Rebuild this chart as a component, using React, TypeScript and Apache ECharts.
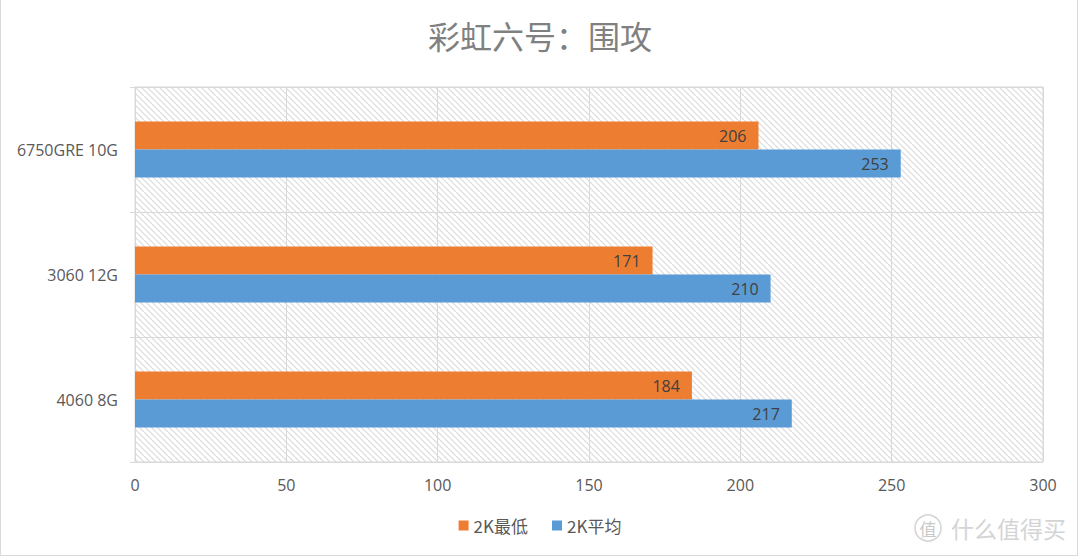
import React, { useEffect, useRef } from "react";
import * as echarts from "echarts";

const titleText = "彩虹六号：围攻";
const categories = ["6750GRE 10G", "3060 12G", "4060 8G"];
const seriesNames = ["2K最低", "2K平均"];
const minValues = [206, 171, 184];
const avgValues = [253, 210, 217];
const xTicks = { min: 0, max: 300, interval: 50 };
const watermark = "什么值得买";

function makeHatch(): HTMLCanvasElement {
  const size = 6;
  const c = document.createElement("canvas");
  c.width = size;
  c.height = size;
  const ctx = c.getContext("2d")!;
  ctx.fillStyle = "#ffffff";
  ctx.fillRect(0, 0, size, size);
  ctx.strokeStyle = "#dadada";
  ctx.lineWidth = 1.2;
  for (const x0 of [-size, 0, size]) {
    ctx.beginPath();
    ctx.moveTo(x0, 0);
    ctx.lineTo(x0 + size, size);
    ctx.stroke();
  }
  return c;
}

export default function App() {
  const ref = useRef<HTMLDivElement>(null);
  useEffect(() => {
    if (!ref.current) return;
    const chart = echarts.init(ref.current, null, { renderer: "svg" });
    const hatch = makeHatch();
    const font = "'Open Sans', 'Noto Sans CJK SC', sans-serif";
    const option: any = {
      animation: false,
      backgroundColor: "#ffffff",
      title: {
        text: titleText,
        left: "center",
        top: 14,
        textStyle: {
          fontSize: 32,
          fontWeight: "normal",
          color: "#808080",
          fontFamily: "'Noto Sans CJK SC', sans-serif",
        },
      },
      legend: {
        data: seriesNames,
        left: "center",
        top: 512,
        itemWidth: 10,
        itemHeight: 10,
        itemGap: 24,
        icon: "rect",
        textStyle: {
          fontSize: 17,
          color: "#595959",
          fontFamily: "'Noto Sans CJK SC', sans-serif",
        },
      },
      grid: {
        left: 135,
        right: 37,
        top: 87,
        bottom: 96,
        show: true,
        borderColor: "#d9d9d9",
        borderWidth: 1,
        backgroundColor: {
          image: hatch,
          repeat: "repeat",
          imageWidth: 6,
          imageHeight: 6,
        },
      },
      xAxis: {
        type: "value",
        min: xTicks.min,
        max: xTicks.max,
        interval: xTicks.interval,
        axisLine: { show: false },
        axisTick: { show: false },
        splitLine: { show: true, lineStyle: { color: "#d9d9d9", width: 1 } },
        axisLabel: {
          fontSize: 16,
          color: "#595959",
          margin: 15,
          fontFamily: font,
        },
      },
      yAxis: {
        type: "category",
        data: categories,
        inverse: true,
        axisLine: { show: true, lineStyle: { color: "#d9d9d9" } },
        axisTick: { show: true, length: 5, lineStyle: { color: "#d9d9d9" } },
        splitLine: { show: true, lineStyle: { color: "#d9d9d9", width: 1 } },
        axisLabel: {
          fontSize: 16,
          color: "#595959",
          margin: 17,
          fontFamily: font,
        },
      },
      series: [
        {
          name: seriesNames[0],
          type: "bar",
          data: minValues,
          barWidth: 28,
          barGap: "0%",
          itemStyle: { color: "#ED7D31" },
          label: {
            show: true,
            position: "insideRight",
            distance: 12,
            fontSize: 16,
            color: "#404040",
            fontFamily: font,
          },
        },
        {
          name: seriesNames[1],
          type: "bar",
          data: avgValues,
          barWidth: 28,
          barGap: "0%",
          itemStyle: { color: "#5B9BD5" },
          label: {
            show: true,
            position: "insideRight",
            distance: 12,
            fontSize: 16,
            color: "#404040",
            fontFamily: font,
          },
        },
      ],
      graphic: [
        {
          type: "line",
          shape: { x1: 0.5, y1: 0, x2: 0.5, y2: 556 },
          style: { stroke: "#d9d9d9", lineWidth: 1 },
          silent: true,
        },
        {
          type: "line",
          shape: { x1: 1077.5, y1: 0, x2: 1077.5, y2: 556 },
          style: { stroke: "#d9d9d9", lineWidth: 1 },
          silent: true,
        },
        {
          type: "line",
          shape: { x1: 0, y1: 555.5, x2: 1078, y2: 555.5 },
          style: { stroke: "#d9d9d9", lineWidth: 1 },
          silent: true,
        },
        {
          type: "circle",
          shape: { cx: 928, cy: 528, r: 13 },
          style: { fill: "none", stroke: "#d4d4d4", lineWidth: 1.5 },
          silent: true,
        },
        {
          type: "text",
          x: 928,
          y: 528,
          style: {
            text: "值",
            fontSize: 17,
            fill: "#c8c8c8",
            align: "center",
            verticalAlign: "middle",
            fontFamily: "'Noto Sans CJK SC', sans-serif",
          },
          silent: true,
        },
        {
          type: "text",
          x: 951,
          y: 528,
          style: {
            text: watermark,
            fontSize: 23,
            fill: "#d4d4d4",
            align: "left",
            verticalAlign: "middle",
            fontFamily: "'Noto Sans CJK SC', sans-serif",
          },
          silent: true,
        },
      ],
    };
    chart.setOption(option);
    return () => chart.dispose();
  }, []);
  return (
    <div
      ref={ref}
      style={{ position: "fixed", left: 0, top: 0, width: 1080, height: 558 }}
    />
  );
}
